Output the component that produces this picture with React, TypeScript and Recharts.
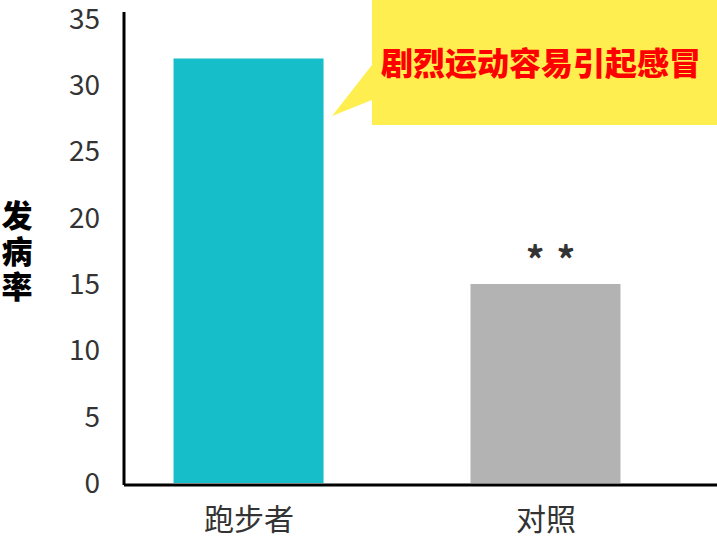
import { BarChart, Bar, XAxis, YAxis, Cell, LabelList } from 'recharts';

const categories = ['跑步者', '对照'];
const incidence = [32, 15];
const significance = ['', '**'];
const barColors = ['#15BEC9', '#B3B3B3'];
const yTicks = [0, 5, 10, 15, 20, 25, 30, 35];
const yLabel = '发病率';
const callout = '剧烈运动容易引起感冒';

const data = categories.map((name, i) => ({
    x: i,
    name,
    value: incidence[i],
    sig: significance[i],
}));

const font = '"Noto Sans CJK SC", "Noto Sans", sans-serif';

// significance stars drawn above the bar top
const renderSig = (props: any) => {
    const { x, y, width, value } = props;
    if (!value) return null;
    return (
        <text
            x={x + width / 2}
            y={y - 10}
            dx={11}
            textAnchor="middle"
            fill="#333"
            fontSize={37}
            fontWeight={700}
            fontFamily={font}
            letterSpacing={12}
        >
            {value}
        </text>
    );
};

export default function App() {
    return (
        <div style={{ position: 'absolute', left: 0, top: 0, width: 717, height: 538, fontFamily: font }}>
            <BarChart
                width={717}
                height={538}
                data={data}
                margin={{ top: 12, right: 0, bottom: 0, left: 0 }}
            >
                <XAxis
                    type="number"
                    dataKey="x"
                    domain={[-0.421, 1.576]}
                    ticks={[0, 1]}
                    tickFormatter={(v) => categories[v] ?? ''}
                    height={53}
                    tickLine={false}
                    tickSize={0}
                    tickMargin={24}
                    axisLine={{ stroke: '#000', strokeWidth: 3 }}
                    tick={{ fill: '#333', fontSize: 30, fontFamily: font }}
                />
                <YAxis
                    domain={[-0.15, 35.5]}
                    allowDataOverflow
                    ticks={yTicks}
                    width={124}
                    tickLine={false}
                    tickSize={0}
                    tickMargin={24}
                    axisLine={{ stroke: '#000', strokeWidth: 3 }}
                    tick={{ fill: '#333', fontSize: 28, fontFamily: font }}
                />
                <Bar dataKey="value" barSize={150} isAnimationActive={false}>
                    {data.map((d, i) => (
                        <Cell key={d.name} fill={barColors[i]} />
                    ))}
                    <LabelList dataKey="sig" content={renderSig} />
                </Bar>
            </BarChart>

            {/* y axis title, one character per line */}
            <div
                style={{
                    position: 'absolute',
                    left: 0,
                    top: 196,
                    width: 34,
                    display: 'flex',
                    flexDirection: 'column',
                    alignItems: 'center',
                    fontSize: 31,
                    fontWeight: 900,
                    lineHeight: '35.5px',
                    color: '#000',
                }}
            >
                {yLabel.split('').map((c) => (
                    <span key={c}>{c}</span>
                ))}
            </div>

            {/* speech bubble */}
            <svg width={717} height={538} style={{ position: 'absolute', left: 0, top: 0, pointerEvents: 'none' }}>
                <polygon
                    points="372,0 717,0 717,125 372,125 372,100 332,116 372,65"
                    fill="#FFEE50"
                />
                <text
                    x={541}
                    y={61}
                    textAnchor="middle"
                    dominantBaseline="central"
                    fill="#FF0000"
                    fontSize={32}
                    fontWeight={900}
                    fontFamily={font}
                >
                    {callout}
                </text>
            </svg>
        </div>
    );
}
